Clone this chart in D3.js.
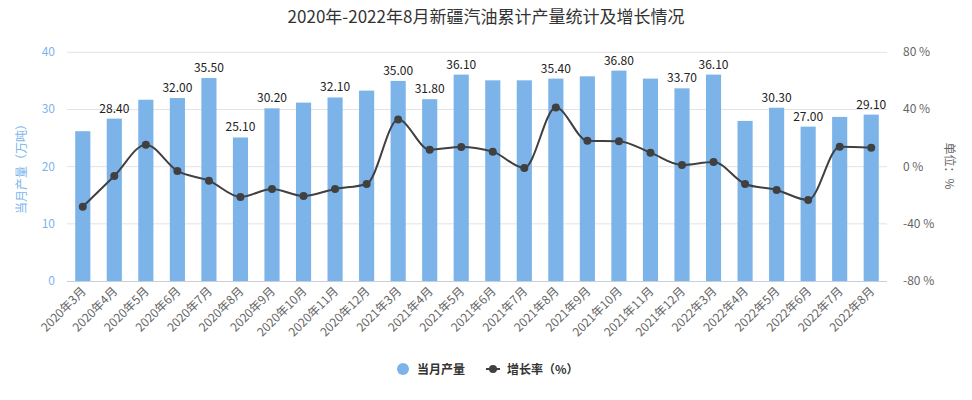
<!DOCTYPE html>
<html><head><meta charset="utf-8">
<script src="https://cdn.jsdelivr.net/npm/d3@7/dist/d3.min.js"></script>
<style>body{margin:0;background:#fff;}svg{display:block;font-family:"Noto Sans CJK SC","Noto Sans",sans-serif;}</style>
</head><body><svg id="c" width="972" height="400"></svg>
<script>
const categories = ["2020年3月","2020年4月","2020年5月","2020年6月","2020年7月","2020年8月","2020年9月","2020年10月","2020年11月","2020年12月","2021年3月","2021年4月","2021年5月","2021年6月","2021年7月","2021年8月","2021年9月","2021年10月","2021年11月","2021年12月","2022年3月","2022年4月","2022年5月","2022年6月","2022年7月","2022年8月"];
const production = [26.2,28.4,31.7,32.0,35.5,25.1,30.2,31.2,32.1,33.3,35.0,31.8,36.1,35.1,35.1,35.4,35.8,36.8,35.4,33.7,36.1,28.0,30.3,27.0,28.7,29.1];
const growth = [-28.0,-6.5,15.4,-3.0,-9.8,-21.2,-15.6,-20.5,-15.6,-12.1,32.9,11.9,13.8,10.5,-0.9,41.3,18.2,17.8,9.8,1.2,3.3,-12.1,-16.3,-23.3,14.0,13.3];
const labelShown = [false,true,false,true,true,true,true,false,true,false,true,true,true,false,false,true,false,true,false,true,true,false,true,true,false,true];
const leftTicks = [0,10,20,30,40];
const rightTicks = [-80,-40,0,40,80];
const title = "2020年-2022年8月新疆汽油累计产量统计及增长情况";
const leftName = "当月产量（万吨）";
const rightName = "单位：%";
const legendBar = "当月产量";
const legendLine = "增长率（%）";

const svg = d3.select("#c");
const m = {l:67, r:887, t:52.3, b:281};
const x = d3.scaleBand().domain(categories).range([m.l, m.r]).paddingInner(0.52).paddingOuter(0.26);
const xc = d => x(d) + x.bandwidth()/2;
const yL = d3.scaleLinear().domain([0,40]).range([m.b, m.t]);
const yR = d3.scaleLinear().domain([-80,80]).range([m.b, m.t]);

svg.append("text").attr("x",486).attr("y",23).attr("text-anchor","middle")
  .attr("font-size",17).attr("fill","#333").text(title);

// grid
svg.append("g").selectAll("line").data(leftTicks.slice(1)).join("line")
  .attr("x1",m.l).attr("x2",m.r).attr("y1",d=>yL(d)).attr("y2",d=>yL(d))
  .attr("stroke","#e3e3e3").attr("stroke-width",1);

// left axis labels
svg.append("g").selectAll("text").data(leftTicks).join("text")
  .attr("x",55).attr("y",d=>yL(d)+4).attr("text-anchor","end")
  .attr("font-size",12).attr("fill","#7cb5ec").text(d=>d);
// right axis labels
svg.append("g").selectAll("text").data(rightTicks).join("text")
  .attr("x",903).attr("y",d=>yR(d)+4).attr("text-anchor","start")
  .attr("font-size",12).attr("fill","#666").text(d=>d+" %");

svg.append("text").attr("transform","translate(26,166) rotate(-90)").attr("text-anchor","middle")
  .attr("font-size",12).attr("fill","#7cb5ec").text(leftName);
svg.append("text").attr("transform","translate(945,166) rotate(90)").attr("text-anchor","middle")
  .attr("font-size",12).attr("fill","#666").text(rightName);

// bars
svg.append("g").selectAll("rect").data(production).join("rect")
  .attr("x",(d,i)=>x(categories[i])).attr("width",x.bandwidth())
  .attr("y",d=>yL(d)).attr("height",d=>m.b-yL(d)).attr("fill","#7cb4ea");

// bottom axis line
svg.append("line").attr("x1",m.l).attr("x2",m.r).attr("y1",m.b+0.5).attr("y2",m.b+0.5)
  .attr("stroke","#c4d0e0").attr("stroke-width",1);

// bar labels
const labelData = production.map((v,i)=>({v:v,c:categories[i]})).filter((d,i)=>labelShown[i]);
svg.append("g").selectAll("text").data(labelData).join("text")
  .attr("x",d=>xc(d.c)).attr("y",d=>yL(d.v)-6).attr("text-anchor","middle")
  .attr("font-size",12).attr("fill","#222").text(d=>d.v.toFixed(2));

// line
const line = d3.line().x((d,i)=>xc(categories[i])).y(d=>yR(d)).curve(d3.curveMonotoneX);
svg.append("path").datum(growth).attr("d",line).attr("fill","none")
  .attr("stroke","#404040").attr("stroke-width",2);
svg.append("g").selectAll("circle").data(growth).join("circle")
  .attr("cx",(d,i)=>xc(categories[i])).attr("cy",d=>yR(d)).attr("r",4).attr("fill","#404040");

// x labels
svg.append("g").selectAll("text").data(categories).join("text")
  .attr("transform",d=>`translate(${xc(d)+4},${m.b+11}) rotate(-45)`)
  .attr("text-anchor","end").attr("font-size",12).attr("fill","#666").text(d=>d);

// legend
const lg = svg.append("g");
lg.append("circle").attr("cx",403).attr("cy",369).attr("r",6).attr("fill","#7cb4ea");
lg.append("text").attr("x",417).attr("y",373.5).attr("font-size",12).attr("font-weight","bold").attr("fill","#333").text(legendBar);
lg.append("line").attr("x1",486).attr("x2",500).attr("y1",369).attr("y2",369).attr("stroke","#404040").attr("stroke-width",2);
lg.append("circle").attr("cx",493).attr("cy",369).attr("r",4).attr("fill","#404040");
lg.append("text").attr("x",507).attr("y",373.5).attr("font-size",12).attr("font-weight","bold").attr("fill","#333").text(legendLine);
</script></body></html>
